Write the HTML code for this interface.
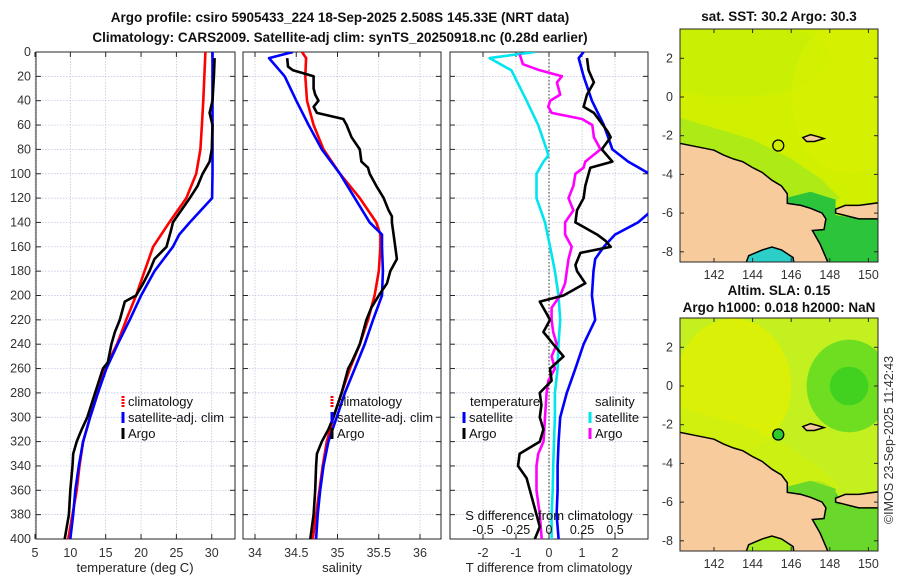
<!DOCTYPE html>
<html><head><meta charset="utf-8"><style>
html,body{margin:0;padding:0;background:#fff;}
svg{display:block;font-family:"Liberation Sans","DejaVu Sans",sans-serif;}
</style></head><body>
<svg id="fig" width="900" height="580" viewBox="0 0 900 580" xmlns="http://www.w3.org/2000/svg">
<defs>
<clipPath id="c1"><rect x="36" y="52" width="199" height="487"/></clipPath>
<clipPath id="c2"><rect x="243" y="52" width="198" height="487"/></clipPath>
<clipPath id="c3"><rect x="450" y="52" width="198" height="487"/></clipPath>
<clipPath id="cm1"><rect x="680" y="29" width="198" height="233"/></clipPath>
<clipPath id="cm2"><rect x="680" y="318" width="198" height="233"/></clipPath>
</defs>
<g font-weight="bold" font-size="13.5" fill="#111" text-anchor="middle">
<text x="340" y="22">Argo profile: csiro 5905433_224 18-Sep-2025 2.508S 145.33E (NRT data)</text>
<text x="340" y="42">Climatology: CARS2009. Satellite-adj clim: synTS_20250918.nc (0.28d earlier)</text>
<text x="779" y="21">sat. SST: 30.2 Argo: 30.3</text>
<text x="779" y="295">Altim. SLA: 0.15</text>
<text x="779" y="312">Argo h1000: 0.018 h2000: NaN</text>
</g>
<text transform="translate(893,440) rotate(-90)" font-size="12.5" fill="#333" text-anchor="middle">©IMOS 23-Sep-2025 11:42:43</text>
<g id="root"></g>
</svg>
<script>
// ---------- data ----------
const depthTicks=[0,20,40,60,80,100,120,140,160,180,200,220,240,260,280,300,320,340,360,380,400];
const tempTicks=[5,10,15,20,25,30];
const salTicks=[34,34.5,35,35.5,36];
const tdiffTicks=[-2,-1,0,1,2];
const sdiffTickLabels=["-0.5","-0.25","0","0.25","0.5"];
const sdiffTicks=[-0.5,-0.25,0,0.25,0.5];
const latTicks=[2,0,-2,-4,-6,-8];
const lonTicks=[142,144,146,148,150];

const tClimDepth=[0,40,60,80,100,120,140,160,180,200,220,240,260,280,300,320,340,360,380,400];
const tClim=[29.1,28.8,28.6,28.4,27.8,26.4,24.0,21.7,20.5,19.3,17.9,16.6,14.9,13.9,12.8,11.8,11.3,10.9,10.3,9.7];
const tSatDepth=[0,100,120,140,150,160,180,200,220,240,260,280,300,320,340,360,380,400];
const tSat=[30.1,30.1,30.05,26.9,25.4,24.5,21.9,20.0,18.4,16.7,15.1,13.9,12.8,11.8,11.2,10.7,10.4,10.0];
const tArgoDepth=[5,20,40,50,60,80,90,100,110,120,130,140,145,160,170,180,190,200,205,220,230,240,255,260,280,300,310,320,330,340,360,380,400];
const tArgo=[30.4,30.3,30.1,29.7,30.1,30.0,29.7,28.7,28.0,26.9,25.7,24.5,24.3,23.6,21.9,21.2,20.3,19.3,17.7,17.0,16.3,15.8,15.3,14.6,13.5,12.4,11.6,10.9,10.4,10.3,10.0,9.8,9.2];

const sClimDepth=[0,5,20,40,60,80,100,120,140,150,160,180,200,220,240,260,280,300,320,340,360,380,400];
const sClim=[34.57,34.62,34.61,34.63,34.71,34.83,35.03,35.27,35.47,35.52,35.52,35.50,35.45,35.37,35.27,35.15,35.05,34.95,34.87,34.82,34.78,34.74,34.70];
const sSatDepth=[0,5,20,40,60,80,100,120,140,150,160,180,200,220,240,260,280,300,320,340,360,380,400];
const sSat=[34.46,34.17,34.36,34.50,34.65,34.81,35.03,35.21,35.39,35.54,35.54,35.55,35.54,35.43,35.33,35.21,35.09,34.99,34.89,34.83,34.79,34.76,34.74];
const sArgoDepth=[5,12,15,20,30,35,40,45,50,55,60,70,80,90,95,100,110,120,130,135,140,150,170,180,190,200,210,220,230,240,255,260,280,300,310,320,330,340,360,380,400];
const sArgo=[34.39,34.40,34.46,34.71,34.71,34.73,34.77,34.71,34.75,35.07,35.11,35.17,35.27,35.29,35.37,35.39,35.47,35.56,35.62,35.66,35.66,35.68,35.72,35.64,35.60,35.50,35.41,35.35,35.31,35.27,35.17,35.13,35.05,34.95,34.89,34.81,34.75,34.74,34.73,34.71,34.67];

const dTSatDepth=[0,5,20,40,60,80,90,100,132,140,150,160,170,180,200,210,220,240,260,280,300,320,340,360,380,400];
const dTSat=[1.05,0.9,1.05,1.3,1.66,1.92,2.4,3.04,3.04,2.7,2.0,1.66,1.4,1.35,1.3,1.35,1.4,1.05,0.8,0.54,0.34,0.29,0.26,0.26,0.23,0.29];
const dTArgoDepth=[5,15,25,35,45,50,65,70,80,90,95,100,110,120,130,140,150,155,160,165,175,180,190,200,205,215,220,230,240,250,260,270,280,290,300,310,320,330,340,350,360,380,390,400];
const dTArgo=[1.15,1.2,1.36,1.15,1.05,1.36,1.77,1.87,1.6,1.92,1.25,1.2,1.1,1.05,0.85,0.8,1.46,1.71,1.87,0.95,0.8,0.85,1.1,0.44,-0.28,-0.07,0.03,-0.17,0.13,0.44,0.03,0.08,-0.28,-0.23,-0.28,-0.17,-0.28,-0.89,-0.94,-0.68,-0.58,-0.38,-0.28,-0.43];
const dSSatDepth=[0,5,15,40,60,80,85,90,100,120,140,160,180,200,220,240,260,280,300,320,340,360,380,400];
const dSSat=[-0.107,-0.45,-0.285,-0.17,-0.082,-0.018,-0.005,-0.042,-0.095,-0.095,-0.03,0.008,0.045,0.072,0.085,0.072,0.065,0.045,0.045,0.038,0.032,0.028,0.02,0.02];
const dSArgoDepth=[2,10,15,20,25,35,40,45,50,55,60,70,75,80,90,95,100,110,120,130,140,150,160,170,180,190,200,210,220,230,240,250,260,270,280,300,320,330,340,360,380,400];
const dSArgo=[-0.222,-0.198,-0.07,0.098,0.06,0.085,0.008,-0.005,0.02,0.25,0.328,0.34,0.365,0.39,0.275,0.262,0.2,0.185,0.148,0.185,0.122,0.122,0.172,0.148,0.135,0.122,0.085,0.02,0.02,0.032,0.058,0.02,0.045,-0.005,-0.018,-0.03,-0.042,-0.082,-0.095,-0.095,-0.07,-0.055];

// ---------- scales ----------
const Y0=52,Y1=539;
const yD=d=>Y0+d*(Y1-Y0)/400;
const xT=t=>35+(t-5)*7.07;
const xS=s=>255+(s-34)*82.5;
const xDT=v=>549+v*33;
const xDS=v=>549+v*132;
const NS="http://www.w3.org/2000/svg";
const root=document.getElementById('root');
function el(tag,attrs,parent){const e=document.createElementNS(NS,tag);for(const k in attrs)e.setAttribute(k,attrs[k]);(parent||root).appendChild(e);return e;}
function txt(s,attrs,parent){const e=el('text',attrs,parent);e.textContent=s;return e;}

function panel(name,x0,x1,xticks,xf,xlabels){
  const g=el('g',{});
  
  
  depthTicks.forEach(d=>{const y=yD(d);
    const gl=el('line',{x1:x0,x2:x1,y1:y,y2:y,stroke:'#b8c0dc','stroke-width':0.7,'stroke-dasharray':'1.5,1.5'},g);
    
    el('line',{x1:x0,x2:x0+5,y1:y,y2:y,stroke:'#262626','stroke-width':1},g);
    el('line',{x1:x1-5,x2:x1,y1:y,y2:y,stroke:'#262626','stroke-width':1},g);
  });
  xticks.forEach((v,i)=>{const x=xf(v);
    const gl=el('line',{x1:x,x2:x,y1:Y0,y2:Y1,stroke:'#b8c0dc','stroke-width':0.7,'stroke-dasharray':'1.5,1.5'},g);
    
    el('line',{x1:x,x2:x,y1:Y1-5,y2:Y1,stroke:'#262626'},g);
    el('line',{x1:x,x2:x,y1:Y0,y2:Y0+5,stroke:'#262626'},g);
    const t=txt(xlabels[i],{x:x,y:Y1+18,'font-size':12.5,fill:'#333','text-anchor':'middle'},g);
    
  });
  const fr=el('rect',{x:x0,y:Y0,width:x1-x0,height:Y1-Y0,fill:'none',stroke:'#262626','stroke-width':1},g);
  
  return g;
}
function series(name,xs,ds,xf,color,clip,w){
  const pts=xs.map((v,i)=>xf(v).toFixed(1)+','+yD(ds[i]).toFixed(1)).join(' ');
  const p=el('polyline',{points:pts,fill:'none',stroke:color,'stroke-width':w||2.6,'stroke-linejoin':'round','clip-path':'url(#'+clip+')'});
  
  
}
function legendEntry(name,x,y,color,label,dashed){
  const g=el('g',{});
  
  
  el('line',{x1:x,x2:x,y1:y-10,y2:y+1,stroke:color,'stroke-width':3,'stroke-dasharray':dashed?'2,1':'none'},g);
  txt(label,{x:x+5,y:y,'font-size':13,fill:'#111'},g);
}

// panel 1
panel('temperature',36,235,tempTicks,xT,tempTicks.map(String));
depthTicks.forEach(d=>{const t=txt(String(d),{x:31,y:yD(d)+4,'font-size':12.5,fill:'#333','text-anchor':'end'});
  });
series('temperature-climatology-line',tClim,tClimDepth,xT,'#ff0000','c1');
series('temperature-satellite-line',tSat,tSatDepth,xT,'#0000ff','c1');
series('temperature-argo-line',tArgo,tArgoDepth,xT,'#000000','c1');
let t=txt('temperature (deg C)',{x:135,y:572,'font-size':13,fill:'#222','text-anchor':'middle'});

legendEntry('legend-climatology',123,406,'#ff0000','climatology',true);
legendEntry('legend-satellite-adj-clim',123,422,'#0000ff','satellite-adj. clim');
legendEntry('legend-argo',123,438,'#000000','Argo');

// panel 2
panel('salinity',243,441,salTicks,xS,['34','34.5','35','35.5','36']);
series('salinity-climatology-line',sClim,sClimDepth,xS,'#ff0000','c2');
series('salinity-satellite-line',sSat,sSatDepth,xS,'#0000ff','c2');
series('salinity-argo-line',sArgo,sArgoDepth,xS,'#000000','c2');
t=txt('salinity',{x:342,y:572,'font-size':13,fill:'#222','text-anchor':'middle'});

legendEntry('legend-climatology-2',332,406,'#ff0000','climatology',true);
legendEntry('legend-satellite-adj-clim-2',332,422,'#0000ff','satellite-adj. clim');
legendEntry('legend-argo-2',332,438,'#000000','Argo');

// panel 3
panel('difference',450,648,tdiffTicks,xDT,tdiffTicks.map(String));
const zl=el('line',{x1:549,x2:549,y1:Y0,y2:Y1,stroke:'#333','stroke-width':1,'stroke-dasharray':'1.5,2'});

series('salinity-satellite-diff-line',dSSat,dSSatDepth,xDS,'#00e5ee','c3');
series('salinity-argo-diff-line',dSArgo,dSArgoDepth,xDS,'#ff00ff','c3');
series('temperature-satellite-diff-line',dTSat,dTSatDepth,xDT,'#0000ff','c3');
series('temperature-argo-diff-line',dTArgo,dTArgoDepth,xDT,'#000000','c3');
t=txt('T difference from climatology',{x:549,y:572,'font-size':13,fill:'#222','text-anchor':'middle'});

t=txt('S difference from climatology',{x:549,y:520,'font-size':13,fill:'#111','text-anchor':'middle'});

sdiffTicks.forEach((v,i)=>{const tt=txt(sdiffTickLabels[i],{x:xDS(v),y:534,'font-size':12.5,fill:'#111','text-anchor':'middle'});
  });
t=txt('temperature',{x:470,y:406,'font-size':13,fill:'#111'});

t=txt('salinity',{x:595,y:406,'font-size':13,fill:'#111'});

legendEntry('legend-temperature-satellite',464,422,'#0000ff','satellite');
legendEntry('legend-temperature-argo',464,438,'#000000','Argo');
legendEntry('legend-salinity-satellite',590,422,'#00e5ee','satellite');
legendEntry('legend-salinity-argo',590,438,'#ff00ff','Argo');

// ---------- maps ----------
const land=[[140,-2.35],[141,-2.55],[142,-2.75],[142.5,-3.0],[143,-3.2],[143.5,-3.35],[144,-3.65],[144.5,-3.9],[145,-4.3],[145.5,-4.6],[145.8,-5.0],[145.8,-5.5],[146.5,-5.6],[147,-5.75],[147.6,-6.0],[147.8,-6.3],[147.7,-6.85],[147.1,-6.9],[147.5,-7.6],[148.1,-9],[146.2,-9],[146.1,-8.3],[145.5,-7.9],[145,-7.75],[144.5,-7.9],[143.8,-8.2],[143.5,-9],[140,-9]];
const newBritain=[[148.3,-5.8],[148.8,-5.6],[149.5,-5.6],[151,-5.4],[151,-6.3],[149.5,-6.3],[148.7,-6.1],[148.3,-6.0]];
const manus=[[146.6,-2.1],[147.0,-1.95],[147.4,-2.05],[147.7,-2.15],[147.2,-2.3],[146.8,-2.3]];
const coastBand=[[140,-1.0],[142,-1.6],[144,-2.2],[146,-3.2],[147.5,-4.2],[148.5,-5.2],[148,-5.6],[145.8,-5.5],[145.8,-5.0],[145,-4.3],[143,-3.2],[140,-2.35]];
const huonSea=[[145.8,-5.2],[147,-4.9],[148.3,-5.3],[148.3,-6.1],[149.5,-6.3],[151,-6.3],[151,-9],[148.1,-9],[147.5,-7.6],[147.1,-6.9],[147.7,-6.85],[147.8,-6.3],[147.6,-6.0],[146.5,-5.6],[145.8,-5.5]];
const gulf=[[143.5,-9],[143.8,-8.2],[144.5,-7.9],[145,-7.75],[145.5,-7.9],[146.1,-8.3],[146.2,-9]];
function mapView(id,top,cfg){
  const mx=lon=>714+(lon-142)*19.3;
  const my=lat=>top+68-lat*19.35;
  const poly=p=>p.map(q=>mx(q[0]).toFixed(1)+','+my(q[1]).toFixed(1)).join(' ');
  const g=el('g',{'clip-path':'url(#'+id+')'});
  
  
  el('rect',{x:680,y:top-1,width:198,height:235,fill:cfg.bg},g);
  cfg.blobs.forEach(b=>el('ellipse',{cx:mx(b[0]),cy:my(b[1]),rx:b[2]*19.3,ry:b[3]*19.3,fill:b[4],opacity:b[5]},g));
  el('polygon',{points:poly(coastBand),fill:cfg.band,opacity:0.8},g);
  el('polygon',{points:poly(huonSea),fill:cfg.huon},g);
  el('polygon',{points:poly(gulf),fill:cfg.gulf},g);
  const l=el('polygon',{points:poly(land),fill:'#f8cb9c',stroke:'#000','stroke-width':1.5},g);
  
  el('polygon',{points:poly(newBritain),fill:'#f8cb9c',stroke:'#000','stroke-width':1.5},g);
  el('polygon',{points:poly(manus),fill:'#f8cb9c',stroke:'#000','stroke-width':1.5},g);
  const c=el('circle',{cx:mx(145.33),cy:my(-2.508),r:5.5,fill:cfg.dot,stroke:'#000','stroke-width':1.3},g);
  
  const fr=el('rect',{x:680,y:top,width:198,height:233,fill:'none',stroke:'#262626'});
  
  latTicks.forEach(v=>{const y=my(v);
    el('line',{x1:680,x2:684,y1:y,y2:y,stroke:'#262626'});el('line',{x1:874,x2:878,y1:y,y2:y,stroke:'#262626'});
    const tt=txt(String(v),{x:673,y:y+4,'font-size':12.5,fill:'#333','text-anchor':'end'});
    });
  lonTicks.forEach(v=>{const x=mx(v);
    el('line',{x1:x,x2:x,y1:top,y2:top+4,stroke:'#262626'});el('line',{x1:x,x2:x,y1:top+229,y2:top+233,stroke:'#262626'});
    const tt=txt(String(v),{x:x,y:top+250,'font-size':12.5,fill:'#333','text-anchor':'middle'});
    });
}
mapView('cm1',29,{name:'sst-map',bg:'#d0f000',band:'#a4e81c',huon:'#2cc43a',gulf:'#2ccfc8',dot:'none',
  blobs:[[143,2,5,2,'#c4ee08',0.6],[149,0,3,4,'#d8f000',0.6]]});
mapView('cm2',318,{name:'sla-map',bg:'#c4f020',band:'#d0f010',huon:'#6ad82a',gulf:'#a8ec20',dot:'#2ccc2a',
  blobs:[[143,0,3,3.5,'#e0f000',0.8],[149,0,2.2,2.4,'#66dc20',0.9],[149,0,1.0,1.0,'#3cd020',0.9],[147.3,-6.5,1.3,1.6,'#30c43a',0.9]]});
</script>
</body></html>
